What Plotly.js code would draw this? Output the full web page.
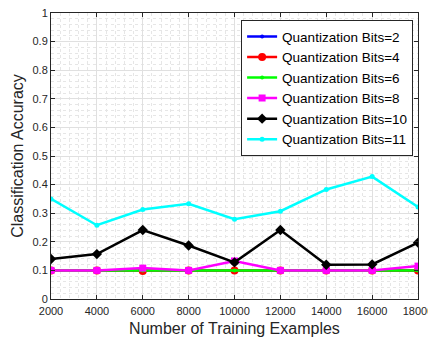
<!DOCTYPE html>
<html><head><meta charset="utf-8">
<script src="https://cdn.plot.ly/plotly-3.0.1.min.js"></script>
<style>html,body{margin:0;padding:0;background:#fff;overflow:hidden}#c{width:428px;height:339px}</style>
</head><body><div id="c"></div>
<script>
const examples = [2000, 4000, 6000, 8000, 10000, 12000, 14000, 16000, 18000];
const names = ['Quantization Bits=2','Quantization Bits=4','Quantization Bits=6','Quantization Bits=8','Quantization Bits=10','Quantization Bits=11'];
const bits2  = [0.100, 0.100, 0.100, 0.100, 0.100, 0.100, 0.100, 0.100, 0.100];
const bits4  = [0.100, 0.100, 0.098, 0.100, 0.100, 0.100, 0.100, 0.100, 0.100];
const bits6  = [0.100, 0.100, 0.100, 0.100, 0.100, 0.100, 0.100, 0.100, 0.100];
const bits8  = [0.100, 0.100, 0.108, 0.100, 0.133, 0.100, 0.100, 0.100, 0.115];
const bits10 = [0.140, 0.157, 0.241, 0.187, 0.128, 0.241, 0.120, 0.121, 0.197];
const bits11 = [0.350, 0.258, 0.313, 0.333, 0.279, 0.307, 0.383, 0.428, 0.322];
const colors = ['#0000ff','#ff0000','#00ff00','#ff00ff','#000000','#00ffff'];
const symbols = ['circle','circle','circle','square','diamond','circle'];
const sizes = [4, 8, 4, 7, 8, 5];
const series = [bits2, bits4, bits6, bits8, bits10, bits11];
const traces = series.map((s,i)=>({
  x: examples, y: s, name: names[i], type:'scatter', mode:'lines+markers',
  line:{color:colors[i], width:2.5}, marker:{color:colors[i], symbol:symbols[i], size:sizes[i]}
}));
const font = {family:'Liberation Sans, Arial, sans-serif', color:'#262626'};
const layout = {
  width:428, height:339, margin:{l:51, r:10, t:13, b:40},
  paper_bgcolor:'#fff', plot_bgcolor:'#fff', font:font, showlegend:true,
  xaxis:{range:[2000,18000], tickvals:examples, tickformat:'d', ticks:'inside', ticklen:4, tickcolor:'#262626',
    showline:true, linecolor:'#262626', linewidth:1, mirror:'ticks', zeroline:false,
    showgrid:true, gridcolor:'#e0e0e0', gridwidth:1, ticklabelstandoff:2, ticklabeloverflow:'allow',
    minor:{dtick:400, showgrid:true, gridcolor:'#e6e6e6', griddash:'dot', gridwidth:1},
    tickfont:{size:11, family:font.family, color:'#262626'},
    title:{text:'Number of Training Examples', font:{size:16, family:font.family, color:'#262626'}, standoff:6}},
  yaxis:{range:[0,1], dtick:0.1, ticks:'inside', ticklen:4, tickcolor:'#262626',
    showline:true, linecolor:'#262626', linewidth:1, mirror:'ticks', zeroline:false,
    showgrid:true, gridcolor:'#e0e0e0', gridwidth:1,
    minor:{dtick:0.02, showgrid:true, gridcolor:'#e6e6e6', griddash:'dot', gridwidth:1},
    tickfont:{size:11, family:font.family, color:'#262626'},
    title:{text:'Classification Accuracy', font:{size:16, family:font.family, color:'#262626'}, standoff:4}},
  legend:{x:0.518, y:0.975, xanchor:'left', yanchor:'top', bgcolor:'#fff', bordercolor:'#262626', borderwidth:1,
    font:{size:13.5, family:font.family, color:'#000'}, tracegroupgap:0, itemwidth:30}
};
Plotly.newPlot('c', traces, layout, {displayModeBar:false, staticPlot:true});
</script></body></html>
